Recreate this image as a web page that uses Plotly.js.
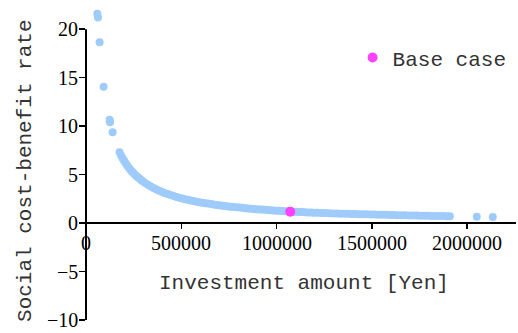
<!DOCTYPE html>
<html>
<head>
<meta charset="utf-8">
<script src="https://cdn.plot.ly/plotly-3.0.1.min.js"></script>
<style>
  html, body { margin: 0; padding: 0; background: #fff; }
  #chart { width: 518px; height: 333px; }
</style>
</head>
<body>
<div id="chart"></div>
<script>
// Investment amount [Yen] for each simulated scenario
const investment = [
  59300, 62900, 71400, 92300, 123800, 125900, 139600,
  176000, 184000, 192000, 200000, 208000, 216000, 224000, 232000,
  240000, 248000, 256000, 264000, 272000, 280000, 288000, 296000,
  310000, 325000, 340000, 355000, 370000, 385000, 400000, 415000,
  430000, 445000, 460000, 475000, 490000, 505000, 520000, 535000,
  550000, 565000, 580000, 595000, 610000, 625000, 640000, 655000,
  670000, 685000, 700000, 715000, 730000, 745000, 760000, 775000,
  790000, 805000, 820000, 835000, 850000, 865000, 880000, 895000,
  910000, 925000, 940000, 955000, 970000, 985000, 1000000, 1015000,
  1030000, 1045000, 1060000, 1075000, 1090000, 1105000, 1120000, 1135000,
  1150000, 1165000, 1180000, 1195000,
  1215000, 1235000, 1255000, 1275000, 1295000, 1315000, 1335000, 1355000,
  1375000, 1395000, 1415000, 1435000, 1455000, 1475000, 1495000, 1515000,
  1535000, 1555000, 1575000, 1595000, 1615000, 1635000, 1655000, 1675000,
  1695000, 1715000, 1735000, 1755000, 1775000, 1795000, 1815000, 1835000,
  1855000, 1875000, 1895000, 1910000,
  2051000, 2135000
];

// Social cost-benefit rate for each scenario
const rate = [
  21.6, 21.2, 18.66, 14.06, 10.66, 10.4, 9.38,
  7.30, 6.98, 6.69, 6.42, 6.17, 5.94, 5.73, 5.53,
  5.35, 5.18, 5.02, 4.86, 4.72, 4.59, 4.46, 4.34,
  4.14, 3.95, 3.78, 3.62, 3.47, 3.34, 3.21, 3.09,
  2.99, 2.89, 2.79, 2.70, 2.62, 2.54, 2.47, 2.40,
  2.33, 2.27, 2.21, 2.16, 2.10, 2.05, 2.01, 1.96,
  1.92, 1.87, 1.83, 1.80, 1.76, 1.72, 1.69, 1.66,
  1.63, 1.60, 1.57, 1.54, 1.51, 1.48, 1.46, 1.43,
  1.41, 1.39, 1.37, 1.34, 1.32, 1.30, 1.28, 1.27,
  1.25, 1.23, 1.21, 1.19, 1.18, 1.16, 1.15, 1.13,
  1.12, 1.10, 1.09, 1.07,
  1.07, 1.05, 1.03, 1.02, 1.00, 0.99, 0.97, 0.96,
  0.95, 0.94, 0.93, 0.92, 0.91, 0.90, 0.89, 0.88,
  0.87, 0.86, 0.85, 0.84, 0.83, 0.82, 0.81, 0.80,
  0.79, 0.78, 0.77, 0.76, 0.76, 0.75, 0.74, 0.73,
  0.72, 0.72, 0.71, 0.70,
  0.64, 0.63
];

// Base case scenario
const baseInvestment = [1072000];
const baseRate = [1.18];
const baseLabel = 'Base case';

// Axis ticks and their labels
const xTicks = [0, 500000, 1000000, 1500000, 2000000];
const xTickText = ['0', '500000', '1000000', '1500000', '2000000'];
const yTicks = [-10, -5, 0, 5, 10, 15, 20];
const yTickText = ['\u221210', '\u22125', '0', '5', '10', '15', '20'];

// Axis titles
const xTitle = 'Investment amount [Yen]';
const yTitle = 'Social cost-benefit rate';

// Axis extents: the drawn y axis spine stops at 20, the data area runs a bit higher
const yMin = -10;
const ySpineTop = 20;
const yRangeTop = 22.5;

const monoFont = 'Liberation Mono';
const serifFont = 'Liberation Serif';

const traces = [
  {
    type: 'scatter',
    mode: 'markers',
    x: investment,
    y: rate,
    marker: { color: '#9ecbfa', size: 8 },
    cliponaxis: false,
    showlegend: false,
    hoverinfo: 'skip'
  },
  {
    type: 'scatter',
    mode: 'markers',
    x: baseInvestment,
    y: baseRate,
    name: baseLabel,
    marker: { color: '#ff40ff', size: 10 },
    cliponaxis: false,
    showlegend: true
  }
];

// Tick labels set in a serif face, placed on the axes' own data coordinates
const xLabelNotes = xTicks.map((v, i) => ({
  xref: 'x', yref: 'y', x: v, y: 0,
  xanchor: 'center', yanchor: 'middle', yshift: -20,
  showarrow: false, text: xTickText[i],
  font: { family: serifFont, size: 20, color: '#000' }
}));
const yLabelNotes = yTicks.map((v, i) => ({
  xref: 'paper', yref: 'y', x: 0, y: v,
  xanchor: 'right', yanchor: 'middle', xshift: -6,
  showarrow: false, text: yTickText[i],
  font: { family: serifFont, size: 20, color: '#000' }
}));
const titleNotes = [
  {
    xref: 'paper', yref: 'y', x: 0.507, y: 0,
    xanchor: 'center', yanchor: 'middle', yshift: -60,
    showarrow: false, text: xTitle,
    font: { family: monoFont, size: 21, color: '#333' }
  },
  {
    xref: 'paper', yref: 'paper', x: -0.142, y: 0.473,
    xanchor: 'center', yanchor: 'middle', textangle: -90,
    showarrow: false, text: yTitle,
    font: { family: monoFont, size: 21, color: '#333' }
  }
];

const layout = {
  width: 518,
  height: 333,
  margin: { l: 86, r: 2, t: 5, b: 13, pad: 0 },
  paper_bgcolor: '#fff',
  plot_bgcolor: '#fff',
  font: { family: serifFont, size: 20, color: '#000' },
  xaxis: {
    range: [0, 2257000],
    anchor: 'free',
    position: (0 - yMin) / (yRangeTop - yMin),
    showline: true,
    linecolor: '#000',
    linewidth: 2,
    ticks: 'outside',
    ticklen: 5,
    tickwidth: 1.5,
    tickcolor: '#000',
    tickmode: 'array',
    tickvals: xTicks,
    showticklabels: false,
    showgrid: false,
    zeroline: false
  },
  yaxis: {
    range: [yMin, yRangeTop],
    domain: [0, 1],
    showline: false,
    ticks: 'outside',
    ticklen: 6,
    tickwidth: 1.5,
    tickcolor: '#000',
    tickmode: 'array',
    tickvals: yTicks,
    showticklabels: false,
    showgrid: false,
    zeroline: false
  },
  shapes: [
    {
      // y axis spine, from the lowest to the highest tick
      type: 'line',
      xref: 'paper', x0: 0, x1: 0,
      yref: 'y', y0: yMin, y1: ySpineTop,
      line: { color: '#000', width: 2 },
      layer: 'below'
    }
  ],
  annotations: xLabelNotes.concat(yLabelNotes, titleNotes),
  legend: {
    x: 0.62,
    y: 0.832,
    xanchor: 'left',
    yanchor: 'middle',
    bgcolor: 'rgba(0,0,0,0)',
    font: { family: monoFont, size: 21, color: '#333' }
  },
  showlegend: true
};

Plotly.newPlot('chart', traces, layout, { staticPlot: true, displayModeBar: false });
</script>
</body>
</html>
